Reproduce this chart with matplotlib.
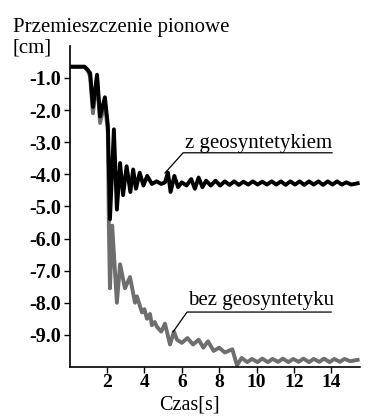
import matplotlib
matplotlib.use("Agg")
import matplotlib.pyplot as plt

plt.rcParams['font.family'] = ['Liberation Serif', 'DejaVu Serif']

# z geosyntetykiem (black)
t_z = [0.00, 0.80, 0.98, 1.10, 1.25, 1.47, 1.63, 1.89, 2.05, 2.16, 2.37, 2.53,
       2.70, 2.86, 3.05, 3.25, 3.40, 3.55, 3.75, 3.95, 4.15, 4.40, 4.65, 4.90, 5.10,
       5.26, 5.40, 5.60, 5.80, 6.00, 6.25, 6.50, 6.70, 6.90, 7.10, 7.30, 7.55,
       7.80, 8.05, 8.30, 8.55, 8.80, 9.05, 9.30, 9.55, 9.80, 10.05, 10.30,
       10.55, 10.80, 11.05, 11.30, 11.55, 11.80, 12.05, 12.30, 12.55, 12.80,
       13.05, 13.30, 13.55, 13.80, 14.05, 14.30, 14.55, 14.80, 15.05, 15.40]
y_z = [-0.65, -0.65, -0.75, -0.85, -1.90, -0.90, -2.20, -1.60, -2.50, -5.40, -2.60, -5.10,
       -3.65, -4.65, -3.75, -4.55, -3.85, -4.45, -3.95, -4.35, -4.05, -4.30, -4.22, -4.30, -4.25,
       -3.95, -4.55, -4.05, -4.40, -4.25, -4.35, -4.15, -4.45, -4.10, -4.40, -4.20, -4.35,
       -4.20, -4.35, -4.22, -4.33, -4.22, -4.33, -4.23, -4.32, -4.22, -4.32, -4.23,
       -4.32, -4.22, -4.32, -4.22, -4.33, -4.22, -4.32, -4.22, -4.33, -4.22,
       -4.32, -4.22, -4.33, -4.22, -4.32, -4.22, -4.32, -4.25, -4.32, -4.28]

# bez geosyntetyku (gray)
t_b = [0.00, 0.80, 0.98, 1.10, 1.25, 1.47, 1.63, 1.89, 2.05, 2.10, 2.16, 2.28,
       2.53, 2.70, 2.96, 3.23, 3.50, 3.60, 3.87, 4.00, 4.14, 4.30, 4.40, 4.55,
       4.67, 4.90, 5.10, 5.37, 5.58, 5.74, 6.00, 6.30, 6.60, 6.90, 7.15, 7.40,
       7.70, 8.00, 8.30, 8.70, 8.95, 9.20, 9.50, 9.75, 10.05, 10.30, 10.60,
       10.85, 11.15, 11.40, 11.70, 11.95, 12.25, 12.50, 12.80, 13.05, 13.35,
       13.60, 13.90, 14.15, 14.45, 14.70, 15.00, 15.40]
y_b = [-0.65, -0.65, -0.78, -0.95, -2.10, -1.00, -2.40, -1.75, -2.70, -5.60, -7.55, -5.60,
       -8.00, -6.80, -7.55, -7.20, -8.00, -7.80, -8.30, -8.20, -8.50, -8.35, -8.70, -8.60,
       -8.75, -8.90, -8.65, -9.30, -8.90, -9.15, -9.25, -9.10, -9.30, -9.15, -9.40, -9.20,
       -9.50, -9.40, -9.55, -9.45, -9.95, -9.72, -9.85, -9.75, -9.85, -9.74, -9.85,
       -9.75, -9.84, -9.74, -9.85, -9.75, -9.84, -9.74, -9.85, -9.75, -9.84,
       -9.74, -9.85, -9.75, -9.84, -9.75, -9.82, -9.78]

yticks = [-1, -2, -3, -4, -5, -6, -7, -8, -9]
ylabels = ['-1.0', '-2.0', '-3.0', '-4.0', '-5.0', '-6.0', '-7.0', '-8.0', '-9.0']
xticks = [2, 4, 6, 8, 10, 12, 14]

fig = plt.figure(figsize=(3.68, 4.17), dpi=100)
ax = fig.add_axes([0.189, 0.12, 0.788, 0.77])

ax.plot(t_b, y_b, color='#6e6e6e', lw=2.8, solid_joinstyle='round')
ax.plot(t_z, y_z, color='black', lw=2.8, solid_joinstyle='round')

ax.set_xlim(0, 15.5)
ax.set_ylim(-10, 0)
ax.set_yticks(yticks)
ax.set_yticklabels(ylabels, fontweight='bold')
ax.set_xticks(xticks)
ax.set_xticklabels([str(v) for v in xticks], fontweight='bold')
ax.tick_params(labelsize=14.5, direction='out', length=4, width=1, pad=2)
ax.tick_params(axis='x', labelsize=14, pad=1)
for s in ['top', 'right']:
    ax.spines[s].set_visible(False)
ax.spines['left'].set_linewidth(1.2)
ax.spines['bottom'].set_linewidth(1.2)

fig.text(0.514, 0.018, 'Czas[s]', fontsize=14.5, ha='center', va='baseline')

# annotations with underline + leader
ax.plot([5.10, 6.07, 14.03], [-3.96, -3.33, -3.33], color='black', lw=0.9)
ax.text(6.17, -3.18, 'z geosyntetykiem', fontsize=15, ha='left', va='baseline')
ax.plot([5.53, 6.28, 13.98], [-8.91, -8.29, -8.29], color='black', lw=0.9)
ax.text(6.33, -8.07, 'bez geosyntetyku', fontsize=15, ha='left', va='baseline')

fig.text(0.035, 0.923, 'Przemieszczenie pionowe', fontsize=15, va='baseline', ha='left')
fig.text(0.035, 0.873, '[cm]', fontsize=15, va='baseline', ha='left')

fig.savefig('out.png', dpi=100)
